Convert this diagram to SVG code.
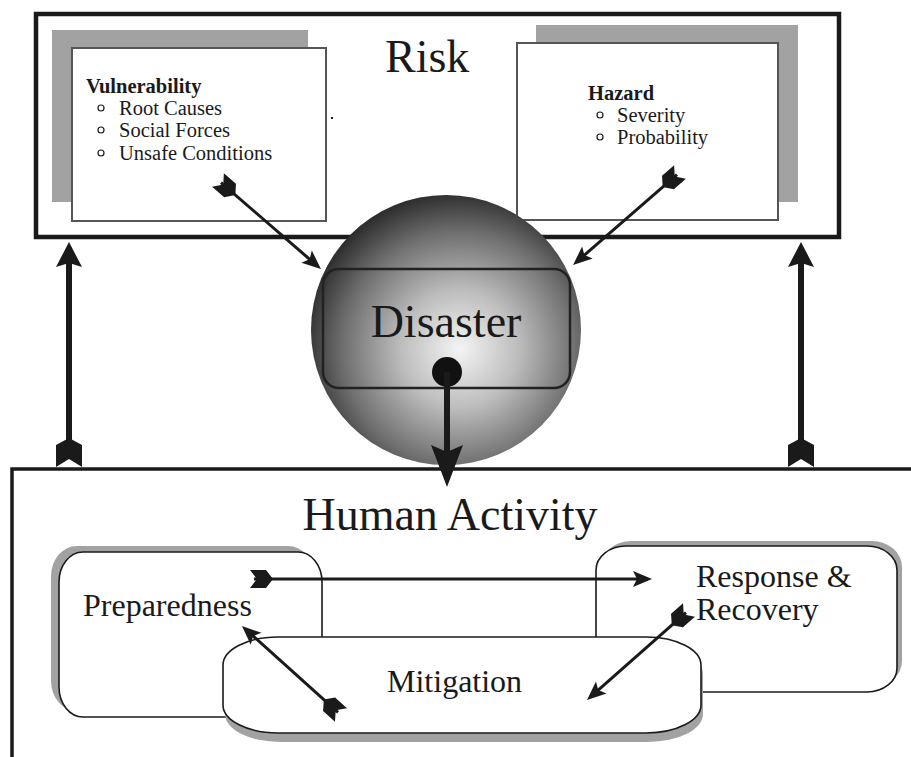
<svg xmlns="http://www.w3.org/2000/svg" width="911" height="757" viewBox="0 0 911 757">
<style>
  .serif { font-family: "Liberation Serif", "Times New Roman", serif; fill: #1a1a1a; }
  .big { font-size: 46px; }
  .mid { font-size: 32px; }
  .small { font-size: 20.5px; }
  .bold { font-weight: bold; }
  .shadow { fill: #a2a2a2; stroke: none; }
  .card { fill: #ffffff; stroke: #555555; stroke-width: 2; }
  .rbox { fill: #ffffff; stroke: #1a1a1a; stroke-width: 1.6; }
  .bullet { fill: none; stroke: #1a1a1a; stroke-width: 1.2; }
  .thin { stroke: #1a1a1a; stroke-width: 3; fill: none; }
  .thick { stroke: #1a1a1a; stroke-width: 6; fill: none; }
</style>
<defs>
  <radialGradient id="sphereGrad" cx="0.55" cy="0.57" r="0.62" fx="0.55" fy="0.57">
    <stop offset="0" stop-color="#f4f4f4"/>
    <stop offset="0.35" stop-color="#bdbdbd"/>
    <stop offset="0.7" stop-color="#6e6e6e"/>
    <stop offset="1" stop-color="#1c1c1c"/>
  </radialGradient>
  <marker id="head" markerUnits="userSpaceOnUse" markerWidth="40" markerHeight="40" orient="auto" overflow="visible" refX="0" refY="0">
    <path d="M10,0 L-9,-8 L-5,0 L-9,8 Z" fill="#1a1a1a"/>
  </marker>
  <marker id="fletch" markerUnits="userSpaceOnUse" markerWidth="40" markerHeight="40" orient="auto" overflow="visible" refX="0" refY="0">
    <path d="M-4,-9 L12,-9 L19,0 L12,9 L-4,9 L3,0 Z" fill="#1a1a1a"/>
  </marker>
  <marker id="headL" markerUnits="userSpaceOnUse" markerWidth="60" markerHeight="60" orient="auto" overflow="visible" refX="0" refY="0">
    <path d="M15,0 L-10,-13 L-6,0 L-10,13 Z" fill="#1a1a1a"/>
  </marker>
  <marker id="fletchL" markerUnits="userSpaceOnUse" markerWidth="60" markerHeight="60" orient="auto" overflow="visible" refX="0" refY="0">
    <path d="M-8,-13 L14,-13 L21,0 L14,13 L-8,13 L0,0 Z" fill="#1a1a1a"/>
  </marker>
  <marker id="headD" markerUnits="userSpaceOnUse" markerWidth="80" markerHeight="80" orient="auto" overflow="visible" refX="0" refY="0">
    <path d="M20,0 L-22,-16 L-15,0 L-22,16 Z" fill="#1a1a1a"/>
  </marker>
</defs>

<rect width="911" height="757" fill="#ffffff"/>

<g id="risk">
  <rect x="36" y="14" width="803" height="223" fill="#ffffff" stroke="#1a1a1a" stroke-width="4.5"/>
  <text class="serif big" x="385" y="72">Risk</text>
  <rect x="331" y="117" width="2" height="2" fill="#1a1a1a"/>
</g>

<g id="vulnerability">
  <rect class="shadow" x="52" y="30" width="256" height="172"/>
  <rect class="card" x="72" y="48" width="254" height="173"/>
  <text class="serif small bold" x="86" y="93">Vulnerability</text>
  <circle class="bullet" cx="101" cy="108" r="3"/>
  <text class="serif small" x="119" y="115">Root Causes</text>
  <circle class="bullet" cx="101" cy="130" r="3"/>
  <text class="serif small" x="119" y="137">Social Forces</text>
  <circle class="bullet" cx="101" cy="153" r="3"/>
  <text class="serif small" x="119" y="160">Unsafe Conditions</text>
</g>

<g id="hazard">
  <rect class="shadow" x="536" y="25" width="262" height="177"/>
  <rect class="card" x="517" y="43" width="261" height="177"/>
  <text class="serif small bold" x="588" y="100">Hazard</text>
  <circle class="bullet" cx="600" cy="115" r="3"/>
  <text class="serif small" x="617" y="122">Severity</text>
  <circle class="bullet" cx="600" cy="137" r="3"/>
  <text class="serif small" x="617" y="144">Probability</text>
</g>

<g id="human-activity">
  <path d="M12,757 L12,469 L911,469" fill="none" stroke="#1a1a1a" stroke-width="3.5"/>
  <text class="serif big" x="450" y="530" text-anchor="middle">Human Activity</text>
</g>

<g id="preparedness">
  <rect class="shadow" x="51" y="546" width="263" height="165" rx="26" ry="30"/>
  <rect class="rbox" x="59" y="552" width="263" height="165" rx="24" ry="30"/>
  <text class="serif mid" x="83" y="616">Preparedness</text>
</g>

<g id="response-recovery">
  <rect class="shadow" x="601" y="541" width="301" height="146" rx="30" ry="26"/>
  <rect class="rbox" x="596" y="546" width="301" height="146" rx="30" ry="24"/>
  <text class="serif mid" x="696" y="587">Response &amp;</text>
  <text class="serif mid" x="696" y="620">Recovery</text>
</g>

<g id="mitigation">
  <rect class="shadow" x="225" y="646" width="478" height="96" rx="55" ry="28"/>
  <rect class="rbox" x="223" y="637" width="478" height="96" rx="55" ry="28"/>
  <text class="serif mid" x="387" y="692">Mitigation</text>
</g>

<g id="disaster">
  <circle cx="446" cy="330" r="135" fill="url(#sphereGrad)"/>
  <rect x="323" y="269" width="247" height="119" rx="16" fill="none" stroke="#222222" stroke-width="2.5"/>
  <text class="serif big" x="446" y="337" text-anchor="middle">Disaster</text>
</g>

<g id="connectors">
  <line class="thin" x1="221" y1="182.6" x2="313.4" y2="262.5" marker-start="url(#fletch)" marker-end="url(#head)"/>
  <line class="thin" x1="677" y1="174.6" x2="580.6" y2="258.4" marker-start="url(#fletch)" marker-end="url(#head)"/>
  <line class="thick" x1="69" y1="459" x2="69" y2="257" marker-start="url(#fletchL)" marker-end="url(#headL)"/>
  <line class="thick" x1="801" y1="459" x2="801" y2="257" marker-start="url(#fletchL)" marker-end="url(#headL)"/>
  <circle cx="447" cy="372" r="15" fill="#111111"/>
  <line class="thick" x1="447" y1="372" x2="447" y2="467" marker-end="url(#headD)"/>
  <line class="thin" x1="254" y1="579" x2="642" y2="579" marker-start="url(#fletch)" marker-end="url(#head)"/>
  <line class="thin" x1="338" y1="712.3" x2="249.4" y2="632.7" marker-start="url(#fletch)" marker-end="url(#head)"/>
  <line class="thin" x1="686" y1="612.6" x2="594.5" y2="693.4" marker-start="url(#fletch)" marker-end="url(#head)"/>
</g>
</svg>
